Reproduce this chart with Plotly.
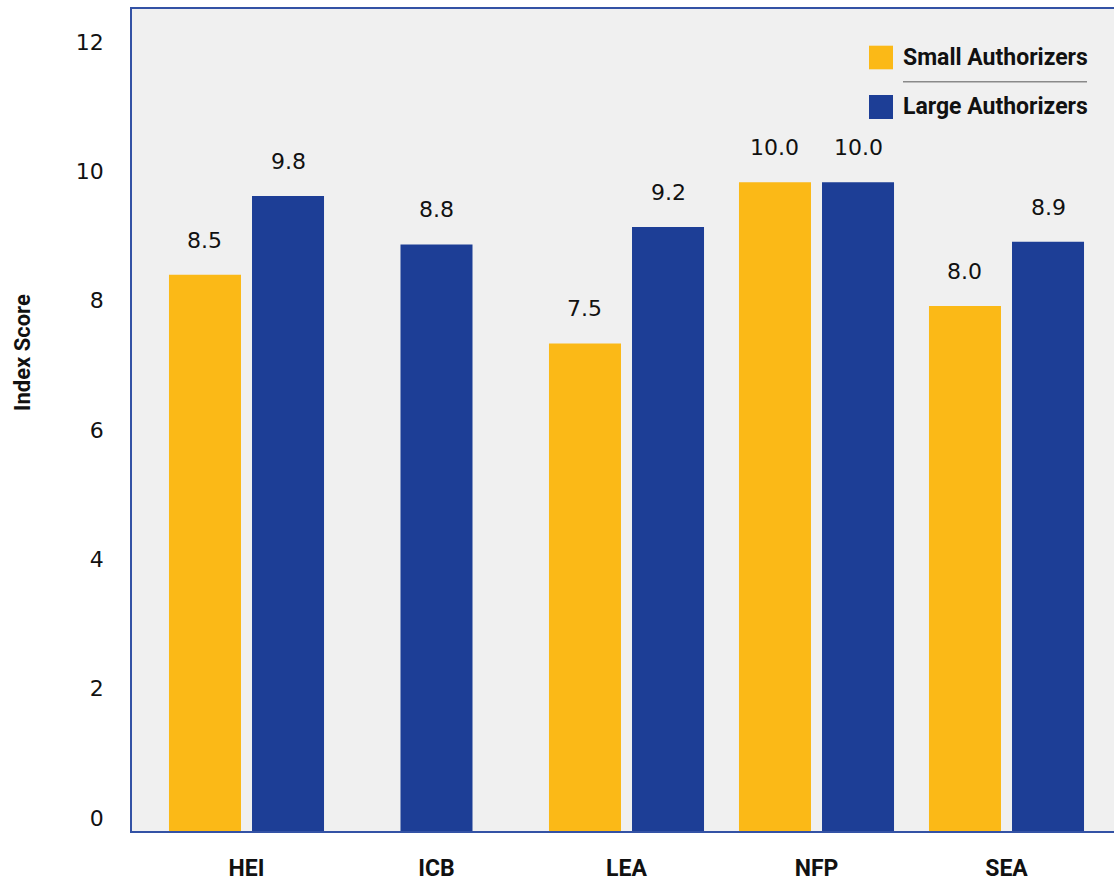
import plotly.graph_objects as go

# ---- data ----
categories = ["HEI", "ICB", "LEA", "NFP", "SEA"]
small_values = [8.60, None, 7.54, 10.03, 8.12]
large_values = [9.82, 9.07, 9.34, 10.03, 9.11]
small_labels = ["8.5", "", "7.5", "10.0", "8.0"]
large_labels = ["9.8", "8.8", "9.2", "10.0", "8.9"]
y_ticks = [0, 2, 4, 6, 8, 10, 12]
series_names = ["Small Authorizers", "Large Authorizers"]

# ---- style ----
YELLOW = "#FBB917"
BLUE = "#1D3E96"
BG = "#F0F0F0"
AXIS = "#3352A5"
COND = "Roboto, Liberation Sans, sans-serif"
LABEL_FONT = "DejaVu Sans, Verdana, sans-serif"

W, H = 1114, 882
ML, MR, MT, MB = 132, 0, 9, 51
PW, PH = W - ML - MR, H - MT - MB

bar_w = 0.379
gap = 0.058
pos = list(range(len(categories)))

off_small = [-(bar_w + gap / 2)] * len(categories)
off_large = [(-bar_w / 2) if s is None else gap / 2 for s in small_values]

fig = go.Figure()
fig.add_trace(go.Bar(
    x=pos, y=small_values, name=series_names[0], marker_color=YELLOW,
    width=bar_w, offset=off_small, marker_line_width=0, showlegend=False,
))
fig.add_trace(go.Bar(
    x=pos, y=large_values, name=series_names[1], marker_color=BLUE,
    width=bar_w, offset=off_large, marker_line_width=0, showlegend=False,
))

# data labels above the bars
for vals, labs, offs in [(small_values, small_labels, off_small),
                         (large_values, large_labels, off_large)]:
    for i, (v, t, o) in enumerate(zip(vals, labs, offs)):
        if v is None or not t:
            continue
        fig.add_annotation(
            x=pos[i] + o + bar_w / 2, y=v, xref="x", yref="y",
            text=t, showarrow=False, yshift=34.5, yanchor="middle",
            font=dict(family=LABEL_FONT, size=22, color="#111111"),
        )

def px_x(p):
    return (p - ML) / PW

def px_y(p):
    return (H - MB - p) / PH

# custom legend
for (y0, y1, col, name, ty) in [(45.7, 69.3, YELLOW, series_names[0], 58),
                                (95, 119, BLUE, series_names[1], 107)]:
    fig.add_shape(type="rect", xref="paper", yref="paper",
                  x0=px_x(869), x1=px_x(893), y0=px_y(y1), y1=px_y(y0),
                  fillcolor=col, line_width=0)
    fig.add_annotation(xref="paper", yref="paper", x=px_x(901), y=px_y(ty),
                       xanchor="left", yanchor="middle", showarrow=False,
                       text=name,
                       font=dict(family=COND, size=23, color="#111111", weight="bold"))
fig.add_shape(type="line", xref="paper", yref="paper",
              x0=px_x(903), x1=px_x(1087), y0=px_y(81.7), y1=px_y(81.7),
              line=dict(color="#8a8a8a", width=1.5))

# y axis title
fig.add_annotation(xref="paper", yref="paper", x=px_x(22), y=px_y(353),
                   text="Index Score", textangle=-90, showarrow=False,
                   xanchor="center", yanchor="middle",
                   font=dict(family=COND, size=22, color="#111111", weight="bold"))

x_min = -(246.5 - ML) / 190.0
x_max = x_min + PW / 190.0
y_max = PH / 64.67

fig.update_layout(
    width=W, height=H,
    margin=dict(l=ML, r=MR, t=MT, b=MB, pad=0, autoexpand=False),
    paper_bgcolor="white", plot_bgcolor=BG,
    barmode="overlay",
    xaxis=dict(
        range=[x_min, x_max], tickvals=pos, ticktext=categories,
        showgrid=False, zeroline=False, ticks="",
        showline=True, linecolor=AXIS, linewidth=1.5, mirror=True,
        tickfont=dict(family=COND, size=23, color="#111111", weight="bold"),
        ticklabelstandoff=16, automargin=False,
    ),
    yaxis=dict(
        range=[0, y_max], tickvals=y_ticks,
        showgrid=False, zeroline=False, ticks="",
        showline=True, linecolor=AXIS, linewidth=1.5,
        tickfont=dict(family=LABEL_FONT, size=22, color="#111111"),
        ticklabelshift=-13, ticklabelstandoff=22, automargin=False,
    ),
)

fig.write_html(
    "out.html",
    config={"displayModeBar": False},
    post_script="document.body.style.margin='0';"
                "document.documentElement.style.overflow='hidden';",
)
